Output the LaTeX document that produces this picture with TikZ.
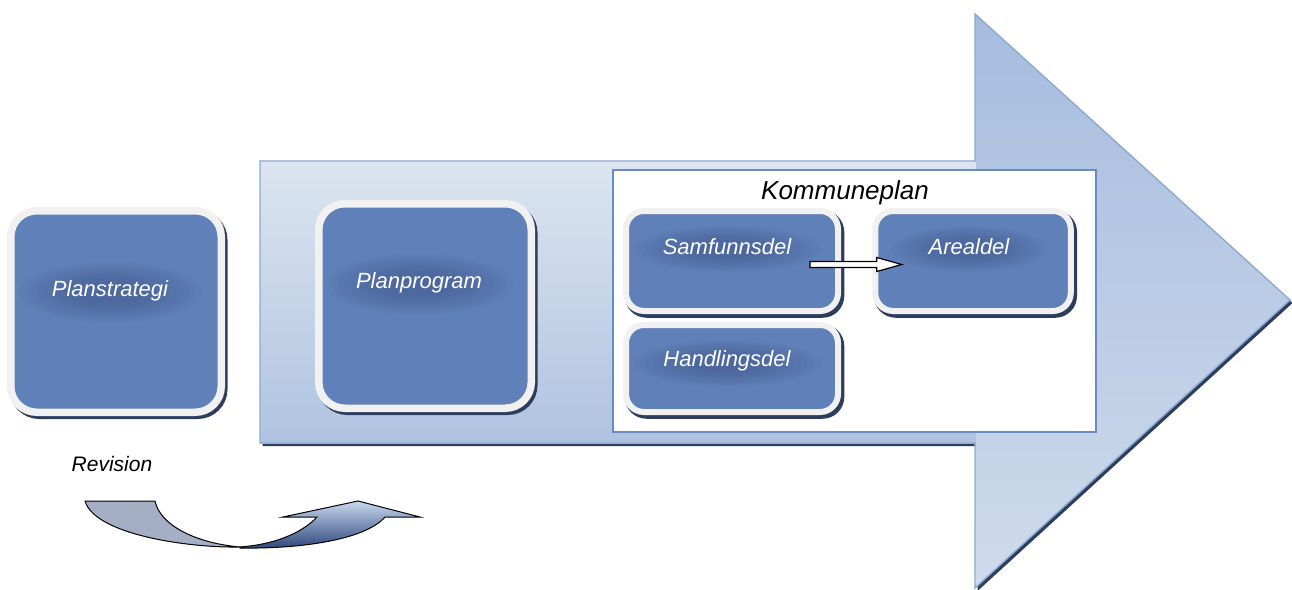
\documentclass[tikz,border=0pt]{standalone}
\usepackage{fontspec}
\setmainfont{Liberation Sans}
\usetikzlibrary{calc}

\definecolor{boxblue}{HTML}{5F80B8}
\definecolor{rimgray}{HTML}{F1F1F1}
\definecolor{shadenavy}{HTML}{2C3D5E}
\definecolor{arrowedge}{HTML}{8EA8D2}
\definecolor{glowshade}{HTML}{3F5485}
\definecolor{frameblue}{HTML}{6A8AC4}
\definecolor{bodytop}{HTML}{DCE5F0}
\definecolor{bodybottom}{HTML}{AFC3E0}
\definecolor{headtop}{HTML}{A6BCDE}
\definecolor{headbottom}{HTML}{CFDBEC}
\definecolor{revgray}{HTML}{A4AEC4}
\definecolor{revlight}{HTML}{C8D8EF}
\definecolor{revdark}{HTML}{2B4679}

\pgfdeclarelayer{front}
\pgfsetlayers{main,front}

\tikzset{
  bigbox/.style={rectangle, rounded corners=26, fill=boxblue, draw=rimgray,
    line width=7.5, inner sep=0,
    preaction={draw=shadenavy, fill=shadenavy, line width=7.5,
      transform canvas={shift={(2.5pt,-3pt)}}}},
  smallbox/.style={bigbox, rounded corners=18, line width=6,
    preaction={draw=shadenavy, fill=shadenavy, line width=6,
      transform canvas={shift={(2.5pt,-3pt)}}}},
  caption/.style={anchor=base, text=white, font=\itshape\fontsize{22}{24}\selectfont,
    inner sep=0},
  plaintitle/.style={anchor=base, text=black, inner sep=0},
  linkarrow/.style={fill=white, draw=black, line width=1.2, line join=miter},
  revback/.style={fill=revgray, draw=black, line width=1},
  revfront/.style={top color=revlight, bottom color=revdark, draw=black, line width=1},
}

% soft dark halo behind a caption: centre, x radius, y radius
\newcommand\capglow[3]{%
  \foreach \i in {1,...,10}
    \fill[glowshade, opacity=0.06] (#1) ellipse [x radius={#2*(1.07-0.07*\i)},
      y radius={#3*(1.07-0.07*\i)}];}

\begin{document}
\begin{tikzpicture}[x=1pt, y=-1pt]
\useasboundingbox (0,0) rectangle (1292,589);

% large process arrow: shadow, head, body, outline
\begin{scope}[shift={(2.5,3)}]
  \fill[shadenavy] (260,161) -- (975,161) -- (975,14) -- (1290,300)
    -- (975,588) -- (975,443) -- (260,443) -- cycle;
\end{scope}
\shade[top color=headtop, bottom color=headbottom]
  (975,14) -- (1290,300) -- (975,588) -- cycle;
\shade[top color=bodytop, bottom color=bodybottom]
  (260,161) rectangle (975.5,443);
\draw[arrowedge, line width=1.4, line join=miter]
  (260,161) -- (975,161) -- (975,14) -- (1290,300)
  -- (975,588) -- (975,443) -- (260,443) -- cycle;

% Kommuneplan frame
\node[rectangle, fill=white, draw=frameblue, line width=1.5, inner sep=0,
  minimum width=483, minimum height=262] (kplan) at (854.5,301) {};
\node[plaintitle, font=\itshape\fontsize{26}{28}\selectfont] (kplantitle)
  at (845,199) {Kommuneplan};

% plan boxes
\node[bigbox, minimum width=210.5, minimum height=201.5] (strat) at (116,311.5) {};
\node[bigbox, minimum width=212.5, minimum height=204.5] (prog) at (425,306) {};
\node[smallbox, minimum width=212, minimum height=100] (samf) at (732,261) {};
\node[smallbox, minimum width=195.5, minimum height=100] (areal) at (973,261) {};
\node[smallbox, minimum width=212, minimum height=87] (handl) at (732,368.5) {};

% captions, set above their halos
\begin{pgfonlayer}{front}
\node[caption] (tstrat) at (110,296) {Planstrategi};
\node[caption] (tprog) at (419,288) {Planprogram};
\node[caption] (tsamf) at (727,254) {Samfunnsdel};
\node[caption] (tareal) at (969,254) {Arealdel};
\node[caption] (thandl) at (727,366) {Handlingsdel};
\end{pgfonlayer}
\capglow{$(tstrat.center)+(0,2)$}{92}{30}
\capglow{$(tprog.center)+(0,2)$}{94}{30}
\capglow{$(tsamf.center)+(0,3)$}{94}{23}
\capglow{$(tareal.center)+(0,3)$}{78}{23}
\capglow{$(thandl.center)+(0,3)$}{94}{23}

% block arrow from Samfunnsdel to Arealdel
\coordinate (linkstart) at ($(samf.east)+(-31,3.5)$);
\coordinate (linkend) at ($(areal.west)+(29.5,3.5)$);
\draw[linkarrow] ($(linkstart)+(0,-3)$) -- ($(linkend)+(-25,-3)$)
  -- ($(linkend)+(-25,-7)$) -- (linkend) -- ($(linkend)+(-25,7)$)
  -- ($(linkend)+(-25,3)$) -- ($(linkstart)+(0,3)$) -- cycle;

% revision loop
\node[plaintitle, font=\itshape\fontsize{21}{23}\selectfont] (trev) at (112,471) {Revision};
\draw[revback] (85,501) -- (155,501) .. controls (160,525) and (195,543) .. (240,547)
  .. controls (190,548) and (95,535) .. (85,501) -- cycle;
\draw[revfront] (240,547) .. controls (280,544) and (305,530) .. (317,517)
  -- (283,517) -- (358,501) -- (420,517) -- (385,517)
  .. controls (365,540) and (300,549) .. (240,548) -- cycle;
\end{tikzpicture}
\end{document}
